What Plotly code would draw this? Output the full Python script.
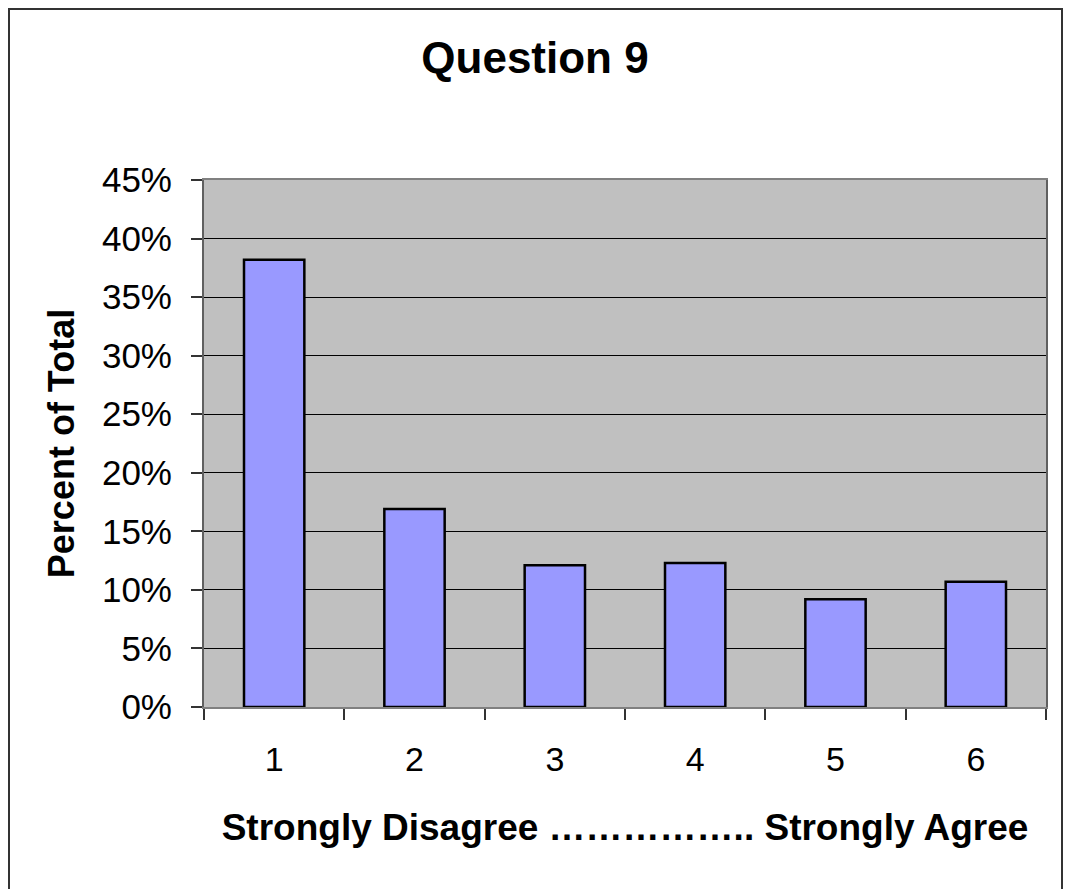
import plotly.graph_objects as go

categories = ["1", "2", "3", "4", "5", "6"]
percent_of_total = [38.2, 16.9, 12.1, 12.3, 9.2, 10.7]
y_tick_values = [0, 5, 10, 15, 20, 25, 30, 35, 40, 45]
y_tick_labels = ["0%", "5%", "10%", "15%", "20%", "25%", "30%", "35%", "40%", "45%"]
title_text = "Question 9"
y_title = "Percent of Total"
x_title = "Strongly Disagree …………….. Strongly Agree"

FONT = "Liberation Sans, Arial, sans-serif"

W, H = 1065, 881
L, R, T, B = 196, 27, 172, 182
PW = W - L - R
PH = H - T - B

fig = go.Figure()
fig.add_trace(go.Bar(
    x=categories, y=percent_of_total,
    marker=dict(color="#9999FF", line=dict(color="black", width=2.5)),
    width=0.43,
    hoverinfo="x+y",
))

fig.update_layout(
    width=W, height=H,
    margin=dict(l=L, r=R, t=T, b=B),
    paper_bgcolor="white",
    plot_bgcolor="#C0C0C0",
    showlegend=False,
    font=dict(family=FONT, color="black"),
    title=dict(text="<b>" + title_text + "</b>", x=527 / W, xanchor="center",
               y=1 - 50 / H, yanchor="middle",
               font=dict(size=44, family=FONT, color="black")),
    xaxis=dict(
        type="category", tickson="boundaries", ticks="outside", ticklen=11,
        tickcolor="#333333", tickwidth=1.5,
        showgrid=False, showline=True, linecolor="#808080", linewidth=2, mirror=True,
        tickfont=dict(size=34, family=FONT), ticklabelstandoff=21,
        title=dict(text="<b>" + x_title + "</b>", font=dict(size=37, family=FONT), standoff=37),
    ),
    xaxis2=dict(
        overlaying="x", range=[-0.5, 5.5], tickvals=[-0.5, 0.5, 1.5, 2.5, 3.5, 4.5, 5.5],
        ticks="inside", ticklen=12, tickcolor="#333333", tickwidth=1.5,
        showticklabels=False, showgrid=False, zeroline=False, side="bottom",
        fixedrange=True,
    ),
    yaxis=dict(
        range=[0, 45], tickvals=y_tick_values, ticktext=y_tick_labels,
        ticks="outside", ticklen=11, tickcolor="#333333", tickwidth=1.5,
        showgrid=True, gridcolor="black", gridwidth=1,
        showline=True, linecolor="#606060", linewidth=2, mirror=True,
        zeroline=False,
        tickfont=dict(size=35, family=FONT), ticklabelstandoff=12,
        title=dict(text="<b>" + y_title + "</b>", font=dict(size=36, family=FONT), standoff=16),
    ),
    shapes=[dict(type="rect", xref="paper", yref="paper",
                 x0=(1 - L) / PW, x1=(1054 - L) / PW,
                 y0=-(B + 20) / PH, y1=(PH + T - 1) / PH,
                 line=dict(color="#333333", width=2), fillcolor="rgba(0,0,0,0)", layer="below")],
)

fig.write_html("out.html")
